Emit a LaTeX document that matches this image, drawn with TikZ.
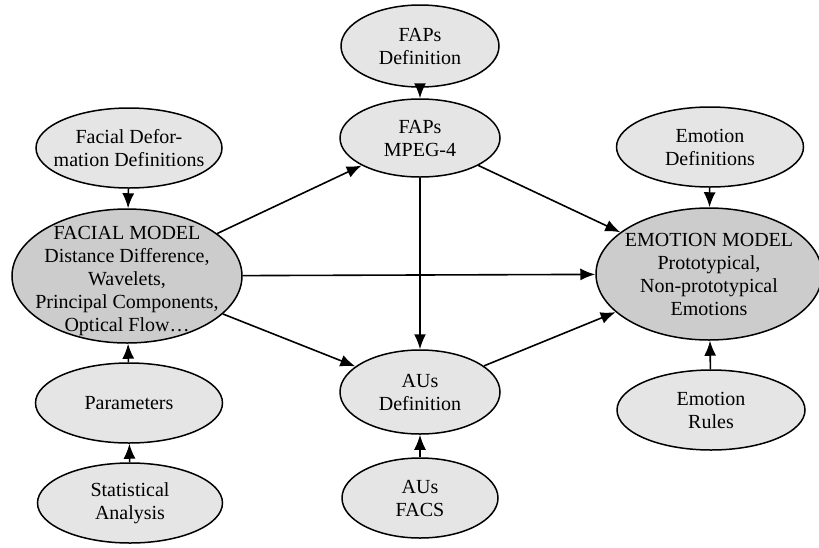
\documentclass[tikz,border=0pt]{standalone}
\usepackage{fontspec}
\setmainfont{Liberation Serif}
\newfontfamily\diagfont{Liberation Serif}
\usepackage{tikz}
\usetikzlibrary{shapes.geometric, arrows.meta}

\begin{document}
\begin{tikzpicture}[x=1pt, y=-1pt,
    oval/.style={ellipse, draw=black, line width=1.5pt, fill=black!10, inner sep=0pt},
    model/.style={oval, fill=black!20},
    txt/.style={align=center, inner sep=0pt, font=\diagfont\fontsize{20}{23}\selectfont},
    arr/.style={line width=1.6pt, -{Latex[length=15pt, width=12pt]}}]
    \useasboundingbox (0,0) rectangle (819,547);
    \node [oval, minimum width=158, minimum height=82, label={[txt]center:FAPs\\Definition}] (fapsdef) at (420,46) {};
    \node [oval, minimum width=160, minimum height=78, label={[txt]center:FAPs\\MPEG-4}] (fapsmpeg) at (420,138) {};
    \node [oval, minimum width=186, minimum height=80, label={[txt]center:Facial Defor-\\mation Definitions}] (facdef) at (129,148) {};
    \node [model, minimum width=230, minimum height=134, label={[txt, yshift=-5pt]center:FACIAL MODEL\\Distance Difference,\\Wavelets,\\Principal Components,\\Optical Flow\ldots}] (facial) at (127,276) {};
    \node [oval, minimum width=187, minimum height=80, label={[txt]center:Parameters}] (params) at (129,403) {};
    \node [oval, minimum width=185, minimum height=80, label={[txt]center:Statistical\\Analysis}] (stat) at (130,503) {};
    \node [oval, minimum width=160, minimum height=84, label={[txt]center:AUs\\Definition}] (ausdef) at (420,392) {};
    \node [oval, minimum width=156, minimum height=80, label={[txt]center:AUs\\FACS}] (ausfacs) at (420,498) {};
    \node [oval, minimum width=187, minimum height=80, label={[txt]center:Emotion\\Definitions}] (emodef) at (710,147) {};
    \node [model, minimum width=226, minimum height=132, label={[txt]center:EMOTION MODEL\\Prototypical,\\Non-prototypical\\Emotions}] (emotion) at (709,274) {};
    \node [oval, minimum width=188, minimum height=80, label={[txt]center:Emotion\\Rules}] (emorules) at (711,410) {};
    \foreach \a/\b in {fapsdef/fapsmpeg, facdef/facial, params/facial, stat/params, ausfacs/ausdef, emodef/emotion, emorules/emotion, facial/fapsmpeg, facial/emotion, facial/ausdef, fapsmpeg/emotion, fapsmpeg/ausdef, ausdef/emotion}
        {\draw [arr] (\a) -- (\b);}
\end{tikzpicture}
\end{document}
